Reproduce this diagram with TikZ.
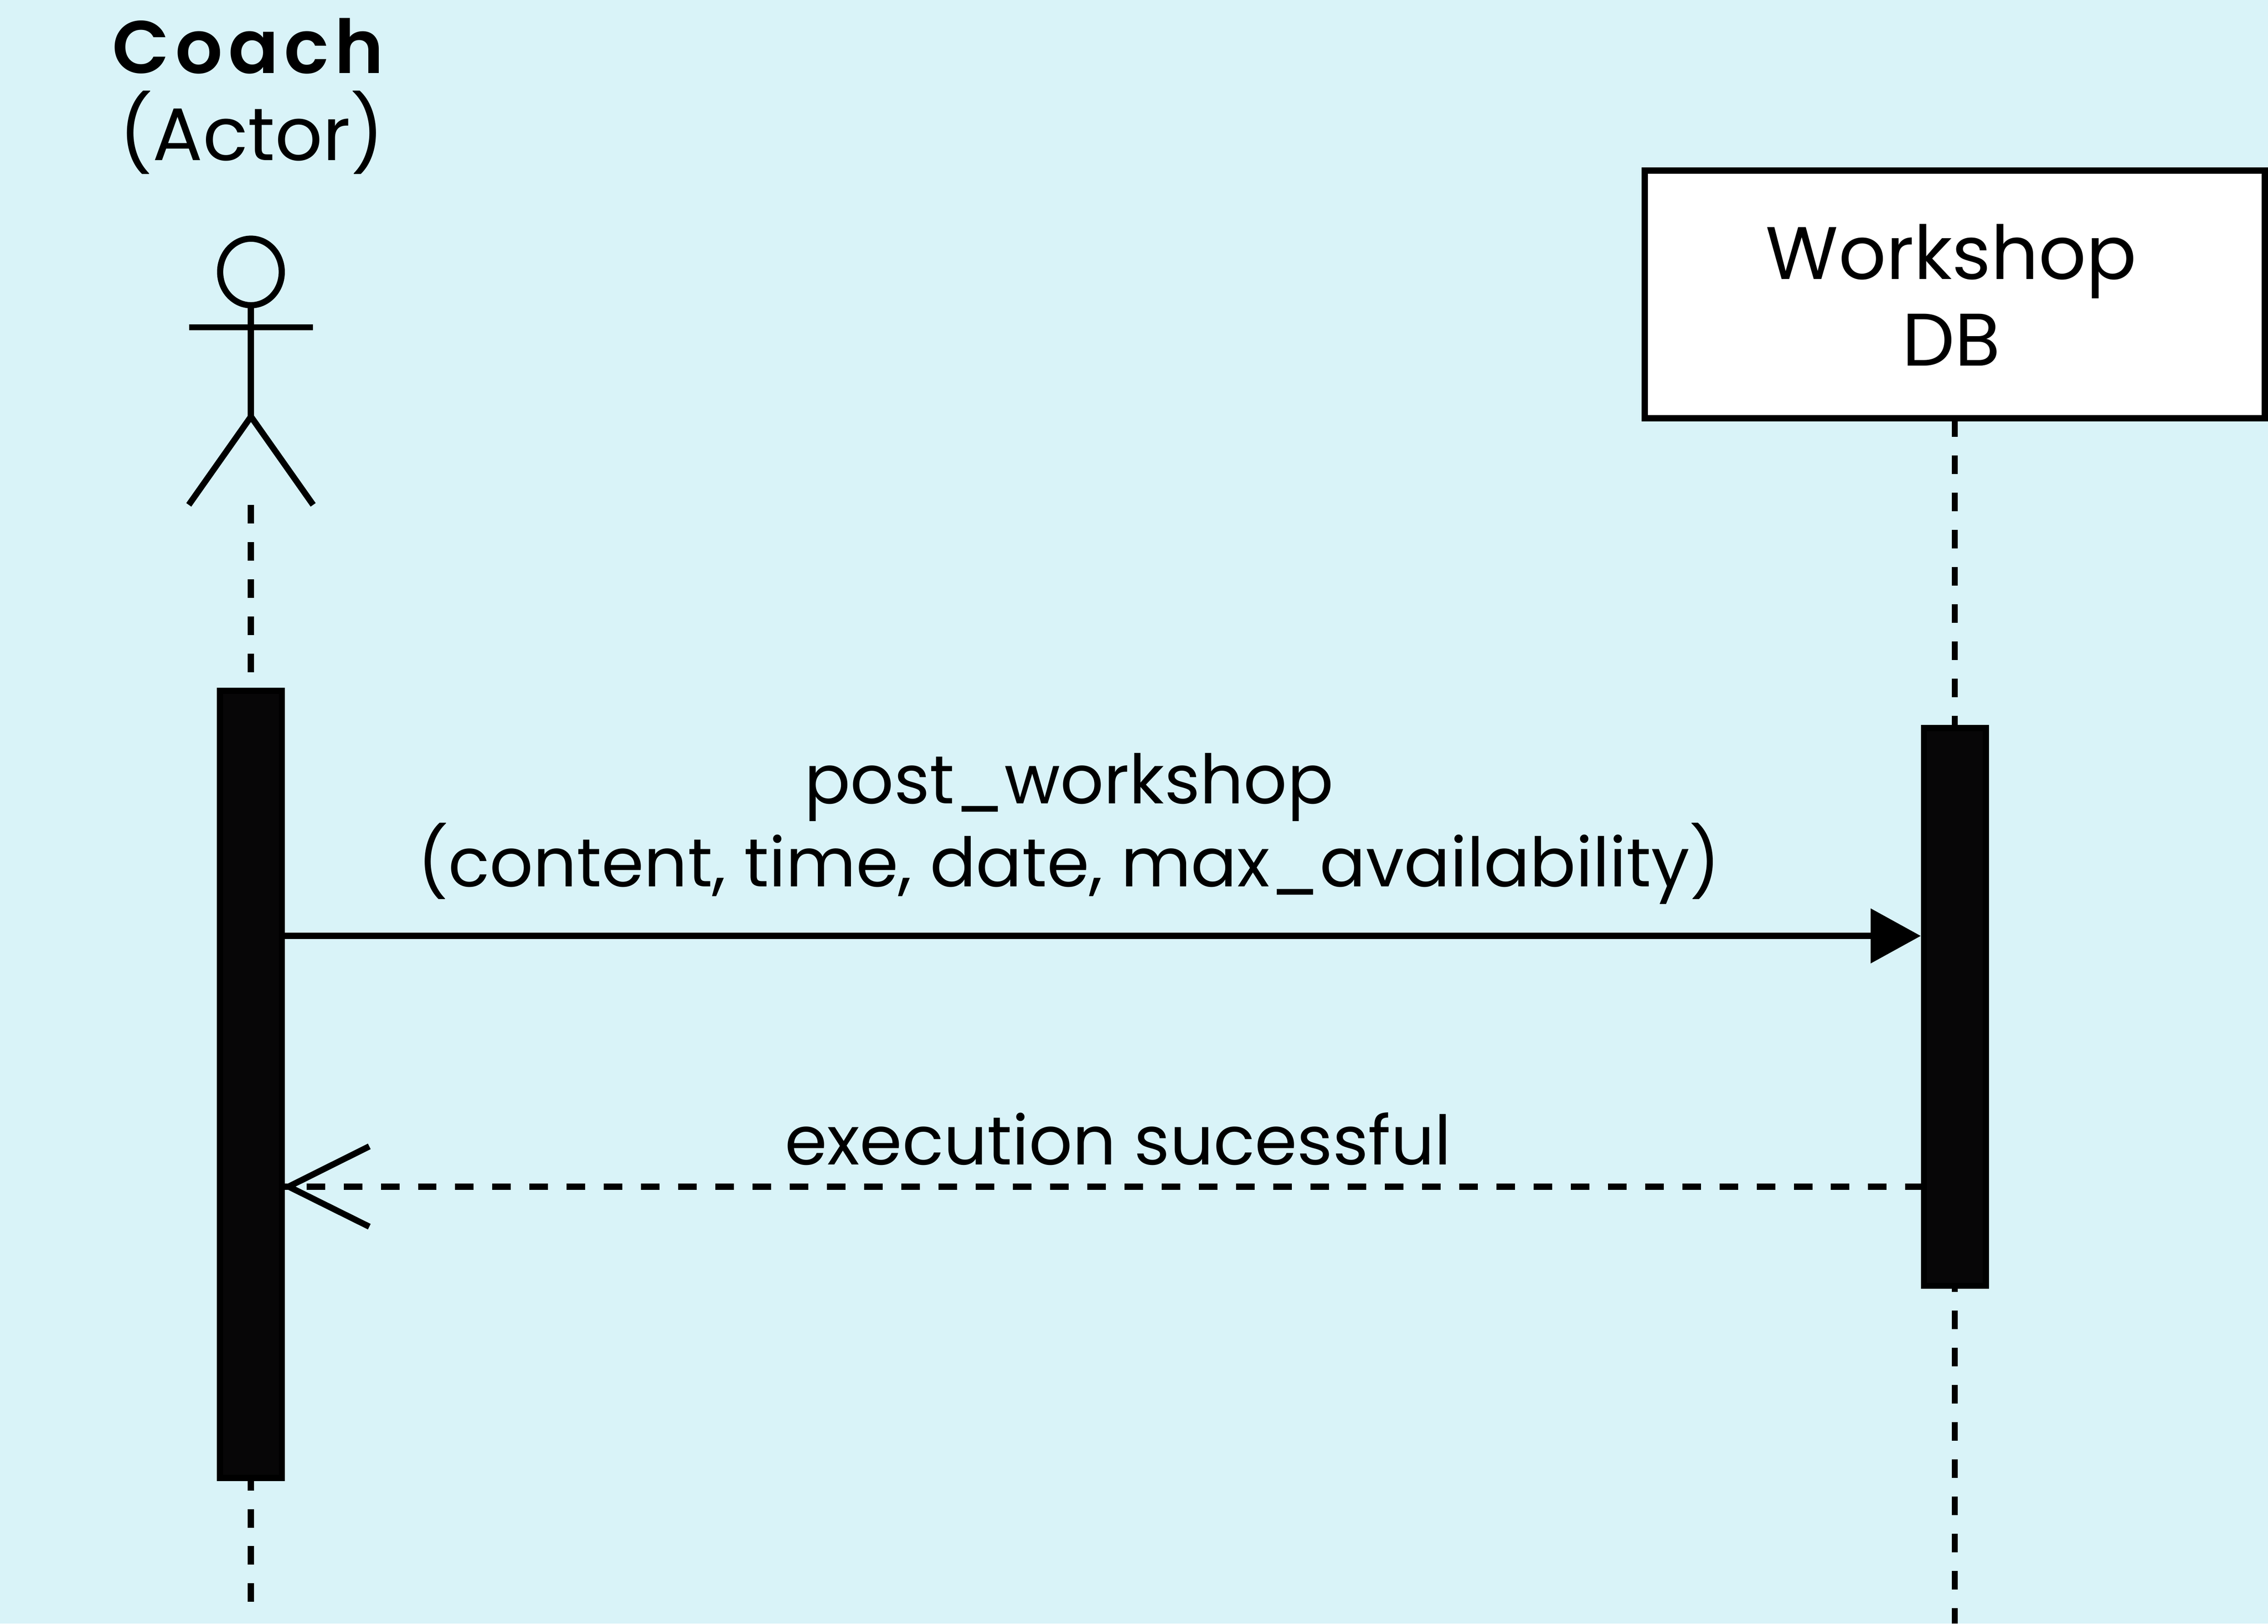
\documentclass[tikz,border=0pt]{standalone}
\usepackage{fontspec}
\setmainfont{Poppins}
\newfontfamily\coachfont[LetterSpace=7.5]{Poppins SemiBold}
\usepackage{xcolor}
\usepackage{tikz}
\usetikzlibrary{positioning}
\usetikzlibrary{arrows.meta}
\definecolor{bgcol}{RGB}{217,243,248}
\definecolor{barcol}{RGB}{7,6,7}
\tikzset{
  lifeline/.style={draw=black,line width=3.2pt,dash pattern=on 9.64pt off 9.64pt},
  actorline/.style={draw=black,line width=3.2pt},
  msgline/.style={draw=black,line width=3.2pt},
  activebar/.style={draw=black,line width=3.2pt,fill=barcol,minimum width=32.1pt,inner sep=0pt,anchor=north},
  textlabel/.style={inner sep=0pt,align=center,font=\fontsize{38.6}{45}\selectfont},
  msglabel/.style={inner sep=0pt,align=center,font=\fontsize{35.35}{40.2}\selectfont}
}
\begin{document}
\begin{tikzpicture}[x=0.75pt,y=0.75pt,yscale=-1,xscale=1]
  % background
  \path[fill=bgcol,use as bounding box] (0,0) rectangle (1568,1122.4);

  % Text Node
  \node (coachlabel) [textlabel] at (174,66.5) {{\coachfont Coach}\kern3.7pt\\(Actor)};

  % Actor
  \draw [actorline] (173.5,188) ellipse [x radius=21.3,y radius=23];
  \draw [actorline] (173.5,211) -- (173.5,288);
  \draw [actorline] (130.7,226.3) -- (216.3,226.3);
  \draw [actorline] (130.5,349) -- (173.5,288) -- (216.5,349);
  \coordinate (coachfoot) at (173.5,349);

  % DB box
  \node (dbbox) [draw=black,fill=white,line width=3.2pt,minimum width=321.5pt,minimum height=128.5pt,inner sep=0pt] at (1351.5,203.5) {};
  \node (dblabel) [textlabel] at (1349,204) {Workshop\\DB};

  % Activation bars
  \node (coachbar) [activebar,minimum height=408.1pt] at (173.5,475.5) {};
  \node (dbbar) [activebar,minimum height=289.2pt] at (1351.5,501.2) {};
  \coordinate (coachend) at (173.5,1107.5);
  \coordinate (dbend) at (1351.5,1122.4);

  % Lifelines
  \draw [lifeline] (coachfoot) -- (coachbar.north);
  \draw [lifeline,dash phase=4.82pt] (coachbar.south) -- (coachend);
  \draw [lifeline,dash phase=1.6pt] (dbbox.south) -- (dbbar.north);
  \draw [lifeline,dash phase=8pt] (dbbar.south) -- (dbend);

  % Messages
  \coordinate (postA) at (coachbar.east |- 0,647);
  \coordinate (postB) at (dbbar.west |- 0,647);
  \coordinate (doneA) at (dbbar.west |- 0,820.3);
  \coordinate (doneB) at (coachbar.east |- 0,820.3);
  \draw [msgline,-{Triangle[length=26pt,width=27.7pt]}] (postA) -- (postB);
  \draw [msgline,dash pattern=on 9.64pt off 9.64pt,dash phase=1.6pt] (doneA) -- (doneB);
  \coordinate (barbU) at (255.3,792.5);
  \coordinate (barbD) at (255.3,848);
  \draw [msgline] (barbU) -- ([xshift=1.9pt]doneB) -- (barbD);

  % Text Node
  \node (postlabel) [msglabel] at (739,572.9) {post\_workshop\\(content, time, date, max\_availability)};
  % Text Node
  \node (donelabel) [msglabel] at (773,787.5) {execution sucessful};
\end{tikzpicture}
\end{document}
